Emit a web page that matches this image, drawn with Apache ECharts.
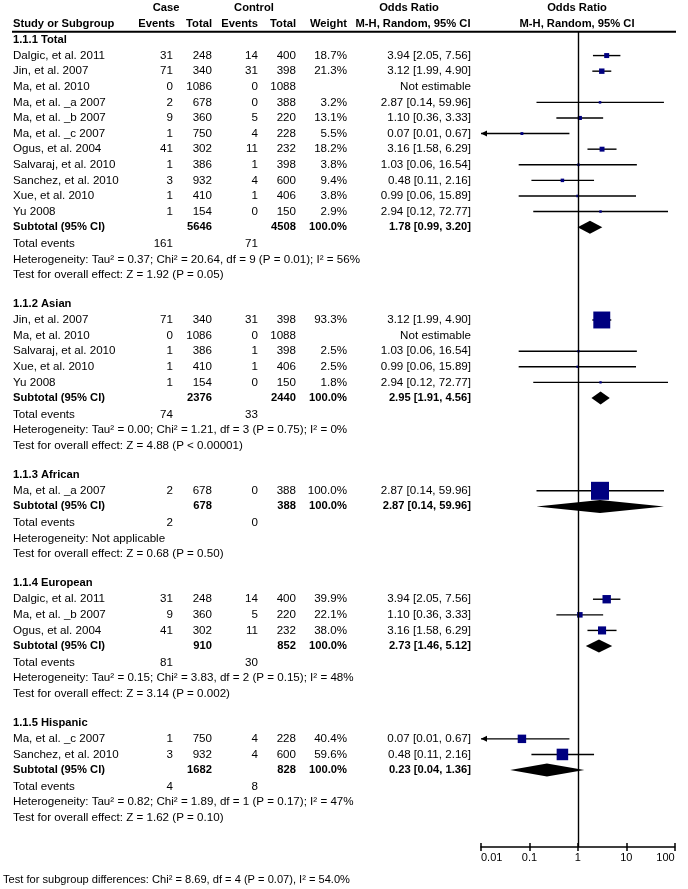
<!DOCTYPE html>
<html><head><meta charset="utf-8">
<script src="https://cdn.jsdelivr.net/npm/echarts@6/dist/echarts.min.js"></script>
<style>html,body{margin:0;padding:0;background:#fff}#c{width:688px;height:889px}</style>
</head><body><div id="c"></div>
<script>
// ---------- DATA ----------
const studyNames = ['Dalgic, et al. 2011','Jin, et al. 2007','Ma, et al. 2010','Ma, et al. _a 2007','Ma, et al. _b 2007','Ma, et al. _c 2007','Ogus, et al. 2004','Salvaraj, et al. 2010','Sanchez, et al. 2010','Xue, et al. 2010','Yu 2008'];
const caseEvents = [31,71,0,2,9,1,41,1,3,1,1];
const caseTotals = [248,340,1086,678,360,750,302,386,932,410,154];
const ctrlEvents = [14,31,0,0,5,4,11,1,4,1,0];
const ctrlTotals = [400,398,1088,388,220,228,232,398,600,406,150];
const oddsRatio = [3.94,3.12,null,2.87,1.10,0.07,3.16,1.03,0.48,0.99,2.94];
const ciLower = [2.05,1.99,null,0.14,0.36,0.01,1.58,0.06,0.11,0.06,0.12];
const ciUpper = [7.56,4.90,null,59.96,3.33,0.67,6.29,16.54,2.16,15.89,72.77];

const groupNames = ['1.1.1 Total','1.1.2 Asian','1.1.3 African','1.1.4 European','1.1.5 Hispanic'];
const groupMembers = [[0,1,2,3,4,5,6,7,8,9,10],[1,2,7,9,10],[3],[0,4,6],[5,8]];
const groupWeights = [[18.7,21.3,null,3.2,13.1,5.5,18.2,3.8,9.4,3.8,2.9],[93.3,null,2.5,2.5,1.8],[100.0],[39.9,22.1,38.0],[40.4,59.6]];
const subtotalCase = [5646,2376,678,910,1682];
const subtotalCtrl = [4508,2440,388,852,828];
const subtotalWeight = [100.0,100.0,100.0,100.0,100.0];
const subtotalOR = [1.78,2.95,2.87,2.73,0.23];
const subtotalLo = [0.99,1.91,0.14,1.46,0.04];
const subtotalHi = [3.20,4.56,59.96,5.12,1.36];
const totalEventsCase = [161,74,2,81,4];
const totalEventsCtrl = [71,33,0,30,8];
const heterogeneityText = [
  'Heterogeneity: Tau\u00b2 = 0.37; Chi\u00b2 = 20.64, df = 9 (P = 0.01); I\u00b2 = 56%',
  'Heterogeneity: Tau\u00b2 = 0.00; Chi\u00b2 = 1.21, df = 3 (P = 0.75); I\u00b2 = 0%',
  'Heterogeneity: Not applicable',
  'Heterogeneity: Tau\u00b2 = 0.15; Chi\u00b2 = 3.83, df = 2 (P = 0.15); I\u00b2 = 48%',
  'Heterogeneity: Tau\u00b2 = 0.82; Chi\u00b2 = 1.89, df = 1 (P = 0.17); I\u00b2 = 47%'
];
const overallEffectText = [
  'Test for overall effect: Z = 1.92 (P = 0.05)',
  'Test for overall effect: Z = 4.88 (P < 0.00001)',
  'Test for overall effect: Z = 0.68 (P = 0.50)',
  'Test for overall effect: Z = 3.14 (P = 0.002)',
  'Test for overall effect: Z = 1.62 (P = 0.10)'
];
const subgroupDiffText = 'Test for subgroup differences: Chi\u00b2 = 8.69, df = 4 (P = 0.07), I\u00b2 = 54.0%';
const xTickLabels = ['0.01','0.1','1','10','100'];

// ---------- LAYOUT ----------
const FONT = '"Liberation Sans", Arial, sans-serif';
const FS = 11.6;     // normal text
const FSB = 11.2;    // bold text
const ROW = 15.6;
const TOP = 31.7, AXIS_Y = 847, FIRST = 39.5;
const yMin = -(FIRST - TOP) / ROW, yMax = (AXIS_Y - FIRST) / ROW;
const COL = {name: 13, caseEv: 173, caseTot: 212, ctrlEv: 258, ctrlTot: 296, weight: 347, ci: 471};

const texts = [];
const studyMarks = [];
const diamonds = [];
function fmtCI(o, l, h) { return o.toFixed(2) + ' [' + l.toFixed(2) + ', ' + h.toFixed(2) + ']'; }
let yy = 0;
groupNames.forEach((g, gi) => {
  texts.push({x: COL.name, y: yy, t: g, a: 'left', b: true});
  yy += 1.03;
  groupMembers[gi].forEach((si, k) => {
    const w = groupWeights[gi][k];
    texts.push({x: COL.name, y: yy, t: studyNames[si], a: 'left'});
    texts.push({x: COL.caseEv, y: yy, t: String(caseEvents[si]), a: 'right'});
    texts.push({x: COL.caseTot, y: yy, t: String(caseTotals[si]), a: 'right'});
    texts.push({x: COL.ctrlEv, y: yy, t: String(ctrlEvents[si]), a: 'right'});
    texts.push({x: COL.ctrlTot, y: yy, t: String(ctrlTotals[si]), a: 'right'});
    if (w != null) texts.push({x: COL.weight, y: yy, t: w.toFixed(1) + '%', a: 'right'});
    if (oddsRatio[si] != null) {
      texts.push({x: COL.ci, y: yy, t: fmtCI(oddsRatio[si], ciLower[si], ciUpper[si]), a: 'right'});
      studyMarks.push([oddsRatio[si], yy, ciLower[si], ciUpper[si], w]);
    } else {
      texts.push({x: COL.ci, y: yy, t: 'Not estimable', a: 'right'});
    }
    yy += 1;
  });
  texts.push({x: COL.name, y: yy, t: 'Subtotal (95% CI)', a: 'left', b: true});
  texts.push({x: COL.caseTot, y: yy, t: String(subtotalCase[gi]), a: 'right', b: true});
  texts.push({x: COL.ctrlTot, y: yy, t: String(subtotalCtrl[gi]), a: 'right', b: true});
  texts.push({x: COL.weight, y: yy, t: subtotalWeight[gi].toFixed(1) + '%', a: 'right', b: true});
  texts.push({x: COL.ci, y: yy, t: fmtCI(subtotalOR[gi], subtotalLo[gi], subtotalHi[gi]), a: 'right', b: true});
  diamonds.push([subtotalOR[gi], yy, subtotalLo[gi], subtotalHi[gi]]);
  yy += 1.06;
  texts.push({x: COL.name, y: yy, t: 'Total events', a: 'left'});
  texts.push({x: COL.caseEv, y: yy, t: String(totalEventsCase[gi]), a: 'right'});
  texts.push({x: COL.ctrlEv, y: yy, t: String(totalEventsCtrl[gi]), a: 'right'});
  yy += 1;
  texts.push({x: COL.name, y: yy, t: heterogeneityText[gi], a: 'left'});
  yy += 1;
  texts.push({x: COL.name, y: yy, t: overallEffectText[gi], a: 'left'});
  yy += 1.86;
});

const chart = echarts.init(document.getElementById('c'), null, {renderer: 'canvas'});

function hdr(x, y, t, align) {
  return {type: 'text', x: x, y: y, silent: true,
    style: {text: t, fill: '#000', font: 'bold ' + FSB + 'px ' + FONT, align: align, textAlign: align, verticalAlign: 'middle', textVerticalAlign: 'middle'}};
}

const plotGrid = {left: 481, right: 13.3, top: TOP, bottom: 889 - AXIS_Y, containLabel: false};

const option = {
  animation: false,
  backgroundColor: '#fff',
  grid: [
    plotGrid,
    {left: 0, right: 0, top: TOP, bottom: 889 - AXIS_Y, containLabel: false},
    Object.assign({}, plotGrid)
  ],
  xAxis: [
    {gridIndex: 0, type: 'log', logBase: 10, min: 0.01, max: 100, position: 'bottom',
     axisLine: {show: true, onZero: false, lineStyle: {color: '#000', width: 1.5}},
     axisTick: {show: true, inside: false, length: 4, lineStyle: {color: '#000', width: 1.5}},
     splitLine: {show: false},
     axisLabel: {show: true, color: '#000', fontFamily: FONT, fontSize: 11, margin: 5,
       alignMinLabel: 'left', alignMaxLabel: 'right',
       formatter: v => xTickLabels[Math.round(Math.log10(v)) + 2]}},
    {gridIndex: 1, type: 'value', min: 0, max: 688, show: false},
    {gridIndex: 2, type: 'log', logBase: 10, min: 0.01, max: 100, position: 'bottom',
     axisLine: {show: false, onZero: false},
     axisTick: {show: true, inside: true, length: 4, lineStyle: {color: '#000', width: 1.5}},
     splitLine: {show: false}, axisLabel: {show: false}}
  ],
  yAxis: [
    {gridIndex: 0, type: 'value', inverse: true, min: yMin, max: yMax, show: false},
    {gridIndex: 1, type: 'value', inverse: true, min: yMin, max: yMax, show: false},
    {gridIndex: 2, type: 'value', inverse: true, min: yMin, max: yMax, show: false}
  ],
  graphic: [
    hdr(166, 7.5, 'Case', 'center'),
    hdr(254, 7.5, 'Control', 'center'),
    hdr(409, 7.5, 'Odds Ratio', 'center'),
    hdr(577, 7.5, 'Odds Ratio', 'center'),
    hdr(13, 23.5, 'Study or Subgroup', 'left'),
    hdr(175, 23.5, 'Events', 'right'),
    hdr(212, 23.5, 'Total', 'right'),
    hdr(258, 23.5, 'Events', 'right'),
    hdr(296, 23.5, 'Total', 'right'),
    hdr(347, 23.5, 'Weight', 'right'),
    hdr(413, 23.5, 'M-H, Random, 95% CI', 'center'),
    hdr(577, 23.5, 'M-H, Random, 95% CI', 'center'),
    {type: 'line', silent: true, shape: {x1: 12, y1: TOP, x2: 676, y2: TOP}, style: {stroke: '#000', lineWidth: 2}},
    {type: 'text', x: 3, y: 880, silent: true,
     style: {text: subgroupDiffText, fill: '#000', font: '11.1px ' + FONT, align: 'left', textAlign: 'left', verticalAlign: 'middle', textVerticalAlign: 'middle'}}
  ],
  series: [
    {
      type: 'custom', xAxisIndex: 1, yAxisIndex: 1, silent: true,
      data: texts.map(t => [t.x, t.y]),
      renderItem: function (params, api) {
        const t = texts[params.dataIndex];
        const p = api.coord([api.value(0), api.value(1)]);
        return {type: 'text', x: p[0], y: p[1],
          style: {text: t.t, fill: '#000', font: (t.b ? 'bold ' + FSB : FS) + 'px ' + FONT,
            align: t.a, textAlign: t.a, verticalAlign: 'middle', textVerticalAlign: 'middle'}};
      }
    },
    {
      type: 'custom', xAxisIndex: 0, yAxisIndex: 0, silent: true, z: 3,
      data: studyMarks,
      renderItem: function (params, api) {
        const y = api.value(1);
        const c = api.coord([api.value(0), y]);
        const l = api.coord([api.value(2), y]);
        const h = api.coord([api.value(3), y]);
        const w = api.value(4);
        const s = 2 + 0.16 * w;
        const children = [
          {type: 'line', shape: {x1: l[0], y1: l[1], x2: h[0], y2: h[1]}, style: {stroke: '#000', lineWidth: 1.4}},
          {type: 'rect', shape: {x: c[0] - s / 2, y: c[1] - s / 2, width: s, height: s}, style: {fill: '#000080'}}
        ];
        if (api.value(2) <= 0.01) {
          children.push({type: 'polygon', shape: {points: [[l[0], l[1]], [l[0] + 6, l[1] - 3], [l[0] + 6, l[1] + 3]]}, style: {fill: '#000'}});
        }
        return {type: 'group', children: children};
      },
      markLine: {
        silent: true, symbol: 'none', label: {show: false},
        lineStyle: {color: '#000', width: 1.4, type: 'solid'},
        data: [{xAxis: 1}]
      }
    },
    {
      type: 'custom', xAxisIndex: 0, yAxisIndex: 0, silent: true, z: 4,
      data: diamonds,
      renderItem: function (params, api) {
        const y = api.value(1);
        const c = api.coord([api.value(0), y]);
        const l = api.coord([api.value(2), y]);
        const h = api.coord([api.value(3), y]);
        return {type: 'polygon', shape: {points: [[l[0], c[1]], [c[0], c[1] - 6.5], [h[0], c[1]], [c[0], c[1] + 6.5]]},
          style: {fill: '#000'}};
      }
    }
  ]
};
chart.setOption(option);
</script>
</body></html>
